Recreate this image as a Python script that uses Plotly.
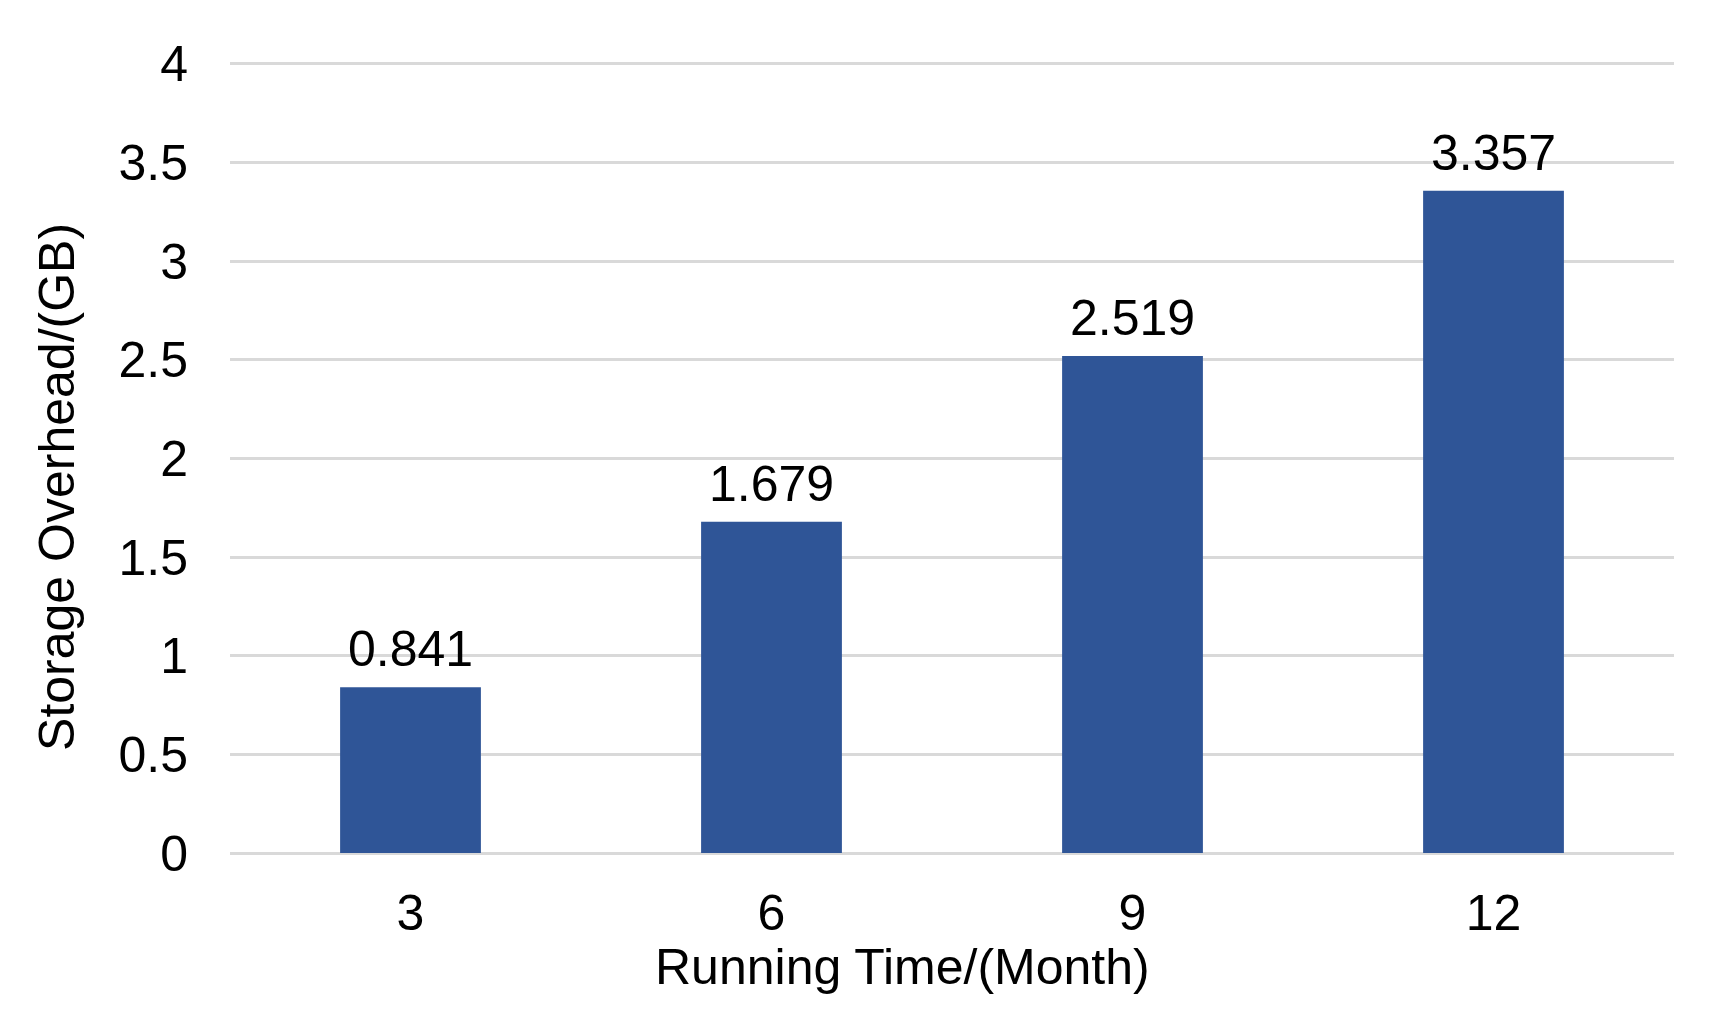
import plotly.graph_objects as go

months = ["3", "6", "9", "12"]
overhead = [0.841, 1.679, 2.519, 3.357]
y_ticks = [0, 0.5, 1, 1.5, 2, 2.5, 3, 3.5, 4]
x_title = "Running Time/(Month)"
y_title = "Storage Overhead/(GB)"

FONT = "Liberation Sans, Arial, sans-serif"
FS = 50

# page body has an 8px default margin; figure is sized so it fits the window
W, H = 1710, 1008
L, R, T, B = 222, 44, 51.5, 158.5
pw, ph = W - L - R, H - T - B

fig = go.Figure()
fig.add_trace(go.Bar(x=months, y=overhead, marker=dict(color="#2F5597", line=dict(width=0)),
                     hoverinfo="skip"))

for i, v in enumerate(overhead):
    fig.add_annotation(x=i, y=v, text=f"{v:.3f}", showarrow=False, yanchor="bottom",
                       yshift=8, font=dict(family=FONT, size=FS, color="#000000"))

fig.add_annotation(xref="paper", yref="paper", x=(894 - L) / pw, y=(H - B + 4 - 964) / ph,
                   text=x_title, showarrow=False, xanchor="center", yanchor="middle",
                   font=dict(family=FONT, size=FS, color="#000000"))
fig.add_annotation(xref="paper", yref="paper", x=(49 - L) / pw, y=(H - B + 4 - 483) / ph,
                   text=y_title, showarrow=False, xanchor="center", yanchor="middle", textangle=-90,
                   font=dict(family=FONT, size=FS, color="#000000"))

fig.update_layout(
    width=W, height=H,
    margin=dict(l=L, r=R, t=T, b=B, pad=0),
    paper_bgcolor="white", plot_bgcolor="white",
    bargap=0.61, showlegend=False,
    font=dict(family=FONT, size=FS, color="#000000"),
)
fig.update_xaxes(type="category", range=[-0.5, 3.5], showgrid=False, showline=False, zeroline=False,
                 ticks="", ticklabelstandoff=22, tickfont=dict(size=FS, family=FONT))
fig.update_yaxes(range=[-0.02, 4.02], tickvals=y_ticks, showgrid=True, gridcolor="#D9D9D9", gridwidth=3,
                 zeroline=False, showline=False, ticks="", ticklabelstandoff=41,
                 tickfont=dict(size=FS, family=FONT))

fig.write_html("out.html")
